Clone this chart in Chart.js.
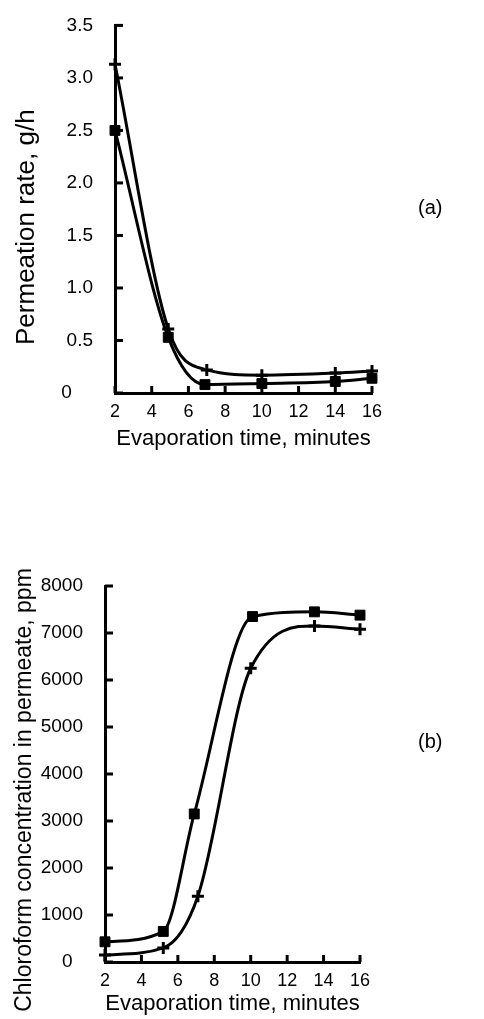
<!DOCTYPE html>
<html>
<head>
<meta charset="utf-8">
<script src="https://cdn.jsdelivr.net/npm/chart.js@4.4.1/dist/chart.umd.min.js"></script>
<style>
  body { margin: 0; background: #fff; width: 484px; height: 1019px; position: relative; overflow: hidden; }
  .panel { position: absolute; left: 0; width: 484px; }
  .tag { position: absolute; font: 20px "Liberation Sans", Arial, sans-serif; color: #000; }
</style>
</head>
<body>
<div class="panel" style="top:0;height:460px"><canvas id="chartA"></canvas></div>
<div class="panel" style="top:520px;height:499px"><canvas id="chartB"></canvas></div>
<div class="tag" style="left:418px;top:196px">(a)</div>
<div class="tag" style="left:418px;top:730px">(b)</div>
<script>
// datos
var tiempoA_cruz = [2, 4.9, 7, 10, 14, 16];
var permeacion_cruz = [3.13, 0.61, 0.22, 0.17, 0.19, 0.21];
var tiempoA_cuadro = [2, 4.9, 6.9, 10, 14, 16];
var permeacion_cuadro = [2.5, 0.53, 0.08, 0.09, 0.11, 0.14];

var tiempoB_cuadro = [2, 5.2, 6.9, 10.1, 13.5, 16];
var cloroformo_cuadro = [430, 650, 3150, 7350, 7450, 7380];
var tiempoB_cruz = [2, 5.2, 7.1, 10, 13.5, 16];
var cloroformo_cruz = [150, 300, 1400, 6250, 7150, 7080];

var ticksX = [2, 4, 6, 8, 10, 12, 14, 16];

var fuente = '"Liberation Sans", Arial, sans-serif';

function puntos(xs, ys) {
    return xs.map(function (x, i) { return { x: x, y: ys[i] }; });
}

function serie(xs, ys, estilo) {
    return {
        data: puntos(xs, ys),
        borderColor: '#000',
        backgroundColor: '#000',
        borderWidth: 3,
        pointStyle: estilo,
        pointRadius: estilo === 'rect' ? 7 : 6,
        pointBorderWidth: estilo === 'rect' ? 1 : 3,
        cubicInterpolationMode: 'monotone',
        clip: false
    };
}

// marcas de los ejes hacia dentro, y título vertical
function plugin(tituloY, desplazamiento) {
    return {
        id: 'extras',
        afterDatasetsDraw: function (chart) {
            var c = chart.ctx, x = chart.scales.x, y = chart.scales.y, a = chart.chartArea;
            c.save();
            c.strokeStyle = '#000';
            c.lineWidth = 3;
            x.ticks.forEach(function (t) {
                var px = x.getPixelForValue(t.value);
                c.beginPath(); c.moveTo(px, a.bottom); c.lineTo(px, a.bottom - 7); c.stroke();
            });
            y.ticks.forEach(function (t) {
                var py = y.getPixelForValue(t.value);
                c.beginPath(); c.moveTo(a.left, py); c.lineTo(a.left + 8, py); c.stroke();
            });
            c.translate(tituloY.x, (a.top + a.bottom) / 2 + desplazamiento);
            c.rotate(-Math.PI / 2);
            c.fillStyle = '#000';
            c.font = tituloY.size + 'px ' + fuente;
            c.textAlign = 'center';
            c.textBaseline = 'middle';
            c.fillText(tituloY.text, 0, 0);
            c.restore();
        }
    };
}

function opciones(cfg) {
    return {
        responsive: true,
        maintainAspectRatio: false,
        animation: false,
        layout: { padding: { top: cfg.top, right: cfg.right, left: 0, bottom: 0 } },
        plugins: { legend: { display: false }, tooltip: { enabled: false } },
        scales: {
            x: {
                type: 'linear', min: 2, max: 16,
                afterBuildTicks: function (s) { s.ticks = ticksX.map(function (v) { return { value: v }; }); },
                afterFit: function (s) { s.height = cfg.xHeight; },
                grid: { display: false },
                border: { color: '#000', width: 3 },
                ticks: { color: '#000', font: { family: fuente, size: 18 }, padding: 0, maxRotation: 0 },
                title: {
                    display: true, text: 'Evaporation time, minutes', color: '#000',
                    font: { family: fuente, size: 22 }, padding: { top: 0, bottom: cfg.titlePad }
                }
            },
            y: {
                min: 0, max: cfg.yMax,
                ticks: {
                    stepSize: cfg.yStep, color: '#000', font: { family: fuente, size: 19 }, padding: 14,
                    callback: function (v) { return v === 0 ? '0' + cfg.ceroEsp : cfg.fmt(v); }
                },
                afterFit: function (s) { s.width = cfg.yWidth; },
                grid: { display: false },
                border: { color: '#000', width: 3 }
            }
        }
    };
}

new Chart(document.getElementById('chartA'), {
    type: 'line',
    data: {
        datasets: [
            serie(tiempoA_cruz, permeacion_cruz, 'cross'),
            serie(tiempoA_cuadro, permeacion_cuadro, 'rect')
        ]
    },
    options: opciones({
        top: 21, right: 112, xHeight: 67, titlePad: 8, yWidth: 115, yMax: 3.5, yStep: 0.5,
        ceroEsp: '    ', fmt: function (v) { return v.toFixed(1); }
    }),
    plugins: [plugin({ x: 27, size: 26, text: 'Permeation rate, g/h' }, 18)]
});

new Chart(document.getElementById('chartB'), {
    type: 'line',
    data: {
        datasets: [
            serie(tiempoB_cuadro, cloroformo_cuadro, 'rect'),
            serie(tiempoB_cruz, cloroformo_cruz, 'cross')
        ]
    },
    options: opciones({
        top: 66, right: 124, xHeight: 57, titlePad: 2, yWidth: 105, yMax: 8000, yStep: 1000,
        ceroEsp: '  ', fmt: function (v) { return String(v); }
    }),
    plugins: [plugin({ x: 25, size: 23, text: 'Chloroform concentration in permeate, ppm' }, 16)]
});
</script>
</body>
</html>
